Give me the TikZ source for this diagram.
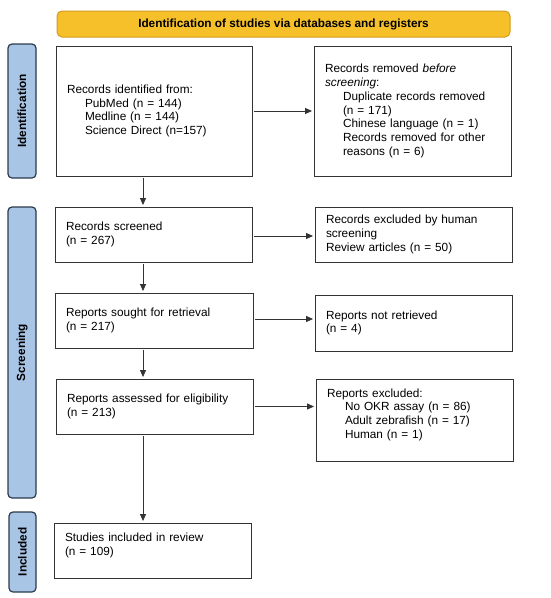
\documentclass[tikz,border=0pt]{standalone}
\usepackage{fontspec}
\setmainfont{Liberation Sans}
\usetikzlibrary{arrows.meta}
\definecolor{bannerfill}{HTML}{F6C02A}
\definecolor{bannerdraw}{HTML}{D39C1E}
\definecolor{tabfill}{HTML}{A8C5E6}
\definecolor{tabdraw}{HTML}{2B3A4C}
\definecolor{boxdraw}{HTML}{333333}
\tikzset{
  banner/.style={draw=bannerdraw, fill=bannerfill, line width=1pt, rounded corners=5pt, inner sep=0pt,
    font=\fontsize{11.8}{13.7}\selectfont\bfseries},
  tab/.style={draw=tabdraw, fill=tabfill, line width=1.2pt, rounded corners=4pt, inner sep=0pt,
    minimum width=28pt},
  tablabel/.style={rotate=90, font=\fontsize{11.8}{13.7}\selectfont\bfseries, inner sep=0pt},
  stepbox/.style={draw=boxdraw, line width=0.9pt, inner xsep=11pt, inner ysep=0pt, align=left,
    font=\fontsize{11.8}{13.7}\selectfont},
  conn/.style={draw=boxdraw, line width=0.8pt, -{Triangle[length=7pt,width=6pt]}, shorten >=1.5pt, shorten <=1.5pt}
}
\newcommand{\ind}{\hspace*{18pt}}
\begin{document}
\begin{tikzpicture}[x=1pt,y=-1pt]
\useasboundingbox (0,0) rectangle (550,598);
% banner
\node[banner, minimum width=453pt, minimum height=26pt] (ban) at (283.5,24) {Identification of studies via databases and registers};
% tabs
\node[tab, minimum height=134pt] (tid) at (22,111) {};
\node[tablabel] (tidl) at (tid.center) {Identification};
\node[tab, minimum height=291pt] (tsc) at (22,352.5) {};
\node[tablabel] (tscl) at (tsc.center) {Screening};
\node[tab, minimum width=27pt, minimum height=80pt] (tin) at (22.5,552) {};
\node[tablabel] (tinl) at (tin.center) {Included};
% boxes
\node[stepbox, minimum width=196pt, minimum height=130pt, text width=174pt] (b1) at (154,111)
 {Records identified from:\\ \ind PubMed (n = 144)\\ \ind Medline (n = 144)\\ \ind Science Direct (n=157)};
\node[stepbox, minimum width=197pt, minimum height=130pt, text width=175pt] (r1) at (412.5,111)
 {Records removed \textit{before}\\ \textit{screening}:\\ \ind Duplicate records removed\\ \ind (n = 171)\\ \ind Chinese language (n = 1)\\ \ind Records removed for other\\ \ind reasons (n = 6)};
\node[stepbox, minimum width=197pt, minimum height=55pt, text width=175pt] (b2) at (153.5,234.5)
 {Records screened\\ (n = 267)};
\node[stepbox, minimum width=197pt, minimum height=55pt, text width=175pt] (r2) at (413.5,234.5)
 {Records excluded by human\\ screening\\ Review articles (n = 50)};
\node[stepbox, minimum width=198pt, minimum height=55pt, text width=176pt] (b3) at (154,320.5)
 {Reports sought for retrieval\\ (n = 217)};
\node[stepbox, minimum width=197pt, minimum height=56pt, text width=175pt] (r3) at (413.5,323)
 {Reports not retrieved\\ (n = 4)};
\node[stepbox, minimum width=197pt, minimum height=55pt, text width=175pt] (b4) at (154.5,406.5)
 {Reports assessed for eligibility\\ (n = 213)};
\node[stepbox, minimum width=197pt, minimum height=82pt, text width=175pt] (r4) at (414.5,420)
 {Reports excluded:\\ \ind No OKR assay (n = 86)\\ \ind Adult zebrafish (n = 17)\\ \ind Human (n = 1)\rule[-13pt]{0pt}{13pt}};
\node[stepbox, minimum width=197pt, minimum height=55pt, text width=175pt] (b5) at (152.5,550.5)
 {Studies included in review\\ (n = 109)\rule[-13pt]{0pt}{13pt}};
% arrows
\coordinate (ax) at (143,0);
\draw[conn] (b1.south -| ax) -- (b2.north -| ax);
\draw[conn] (b2.south -| ax) -- (b3.north -| ax);
\draw[conn] (b3.south -| ax) -- (b4.north -| ax);
\draw[conn] (b4.south -| ax) -- (b5.north -| ax);
\draw[conn] (b1.east) -- (b1.east -| r1.west);
\draw[conn] ([yshift=-1.5pt]b2.east) -- ([yshift=-1.5pt]b2.east -| r2.west);
\draw[conn] ([yshift=1.5pt]b3.east) -- ([yshift=1.5pt]b3.east -| r3.west);
\draw[conn] (b4.east) -- (b4.east -| r4.west);
\end{tikzpicture}
\end{document}
